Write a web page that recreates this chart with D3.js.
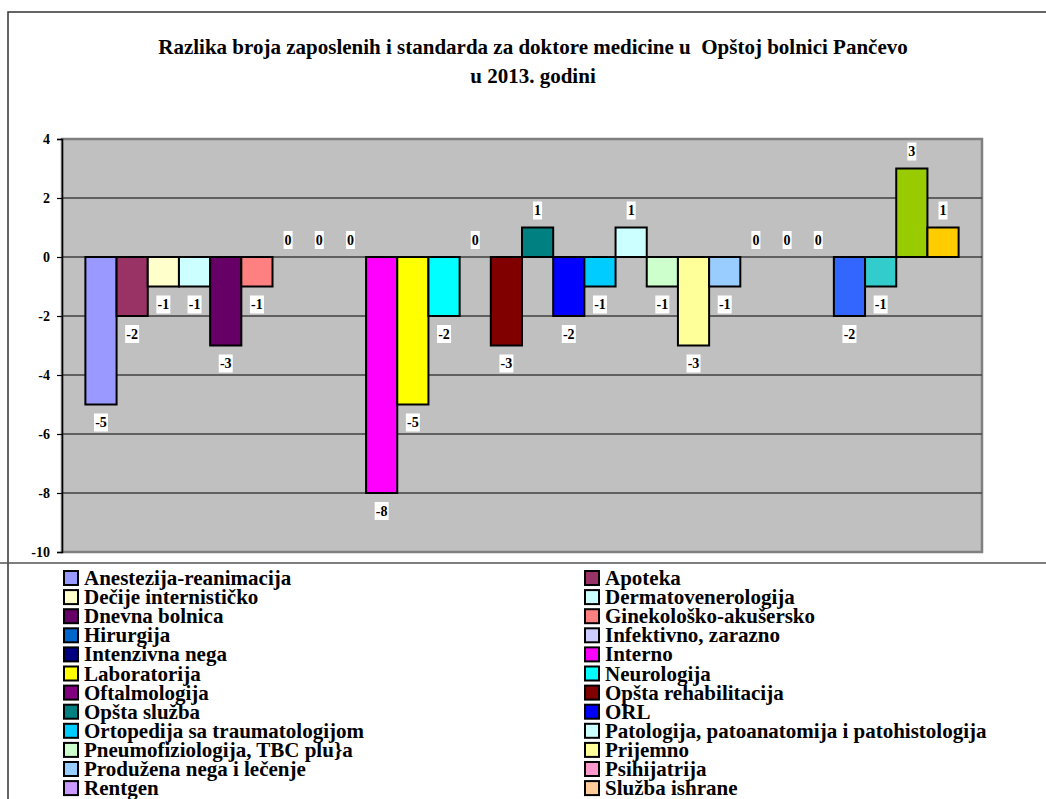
<!DOCTYPE html>
<html>
<head>
<meta charset="utf-8">
<script src="https://cdn.jsdelivr.net/npm/d3@7"></script>
<style>
  body { margin: 0; overflow: hidden; background: #fff; }
  svg text { font-family: "Times New Roman", "Liberation Serif", "DejaVu Serif", serif; font-weight: bold; }
</style>
</head>
<body>
<div id="mychart"></div>
<script>
// chart data
var departments = [
  "Anestezija-reanimacija", "Apoteka", "Dečije internističko", "Dermatovenerologija",
  "Dnevna bolnica", "Ginekološko-akušersko", "Hirurgija", "Infektivno, zarazno",
  "Intenzivna nega", "Interno", "Laboratorija", "Neurologija",
  "Oftalmologija", "Opšta rehabilitacija", "Opšta služba", "ORL",
  "Ortopedija sa traumatologijom", "Patologija, patoanatomija i patohistologija",
  "Pneumofiziologija, TBC plu}a", "Prijemno", "Produžena nega i lečenje", "Psihijatrija",
  "Rentgen", "Služba ishrane", "Transfuziologija", "Urgentni centar",
  "Urologija", "Zajedničke službe"
];
var difference = [
  -5, -2, -1, -1,
  -3, -1, 0, 0,
  0, -8, -5, -2,
  0, -3, 1, -2,
  -1, 1,
  -1, -3, -1, 0,
  0, 0, -2, -1,
  3, 1
];
var colors = [
  "#9999FF", "#993366", "#FFFFCC", "#CCFFFF",
  "#660066", "#FF8080", "#0066CC", "#CCCCFF",
  "#000080", "#FF00FF", "#FFFF00", "#00FFFF",
  "#800080", "#800000", "#008080", "#0000FF",
  "#00CCFF", "#CCFFFF",
  "#CCFFCC", "#FFFF99", "#99CCFF", "#FF99CC",
  "#CC99FF", "#FFCC99", "#3366FF", "#33CCCC",
  "#99CC00", "#FFCC00"
];
var yTicks = [-10, -8, -6, -4, -2, 0, 2, 4];
var title = ["Razlika broja zaposlenih i standarda za doktore medicine u  Opštoj bolnici Pančevo",
             "u 2013. godini"];

var data = departments.map(function(d, i) {
  return { name: d, value: difference[i], color: colors[i] };
});

var W = 1046, H = 799;
var plot = { left: 62, right: 982, top: 139, bottom: 552 };
var serif = "'Times New Roman', 'Liberation Serif', 'DejaVu Serif', serif";
// plain hyphen for negatives, like the original
var fmt = function(d) { return String(d); };

var svg = d3.select("#mychart")
  .append("svg")
    .attr("width", W)
    .attr("height", H)
    .attr("font-family", serif);

// outer frame
svg.append("path")
  .attr("d", "M8," + H + "V12H" + W)
  .attr("fill", "none")
  .attr("stroke", "#333")
  .attr("stroke-width", 1.5);
svg.append("line")
  .attr("x1", 0).attr("x2", W)
  .attr("y1", 563).attr("y2", 563)
  .attr("stroke", "#555")
  .attr("stroke-width", 1.5);

// title
svg.append("text")
  .attr("text-anchor", "middle")
  .attr("font-size", 21)
  .selectAll("tspan")
  .data(title)
  .enter()
  .append("tspan")
    .attr("x", 533)
    .attr("y", function(d, i) { return 54 + i * 29; })
    .style("white-space", "pre")
    .text(function(d) { return d; });

// scales
var x = d3.scaleBand()
  .domain(departments)
  .range([plot.left, plot.right])
  .paddingInner(0)
  .paddingOuter(0.75);

var y = d3.scaleLinear()
  .domain([-10, 4])
  .range([plot.bottom, plot.top]);

// plot area
svg.append("rect")
  .attr("x", plot.left)
  .attr("y", plot.top)
  .attr("width", plot.right - plot.left)
  .attr("height", plot.bottom - plot.top)
  .attr("fill", "#C0C0C0")
  .attr("stroke", "#808080")
  .attr("stroke-width", 2.5);

// gridlines
svg.append("g")
  .selectAll("line")
  .data(yTicks.filter(function(t) { return t > -10 && t < 4; }))
  .enter()
  .append("line")
    .attr("x1", plot.left)
    .attr("x2", plot.right)
    .attr("y1", function(d) { return y(d); })
    .attr("y2", function(d) { return y(d); })
    .attr("stroke", function(d) { return d === 0 ? "#000" : "#404040"; })
    .attr("stroke-width", function(d) { return d === 0 ? 1 : 1.5; });

// y axis
var yAxis = svg.append("g")
  .attr("transform", "translate(" + plot.left + ",0)")
  .call(d3.axisLeft(y).tickValues(yTicks).tickSize(5).tickPadding(7).tickFormat(fmt));
yAxis.attr("font-family", serif);
yAxis.select(".domain").attr("stroke", "#000").attr("stroke-width", 1.5);
yAxis.selectAll(".tick line").attr("stroke", "#000").attr("stroke-width", 1.2);
yAxis.selectAll(".tick text")
  .attr("font-weight", "bold")
  .attr("font-size", 14)
  .attr("fill", "#000");

// bars
svg.append("g")
  .selectAll("rect")
  .data(data.filter(function(d) { return d.value !== 0; }))
  .enter()
  .append("rect")
    .attr("x", function(d) { return x(d.name); })
    .attr("y", function(d) { return y(Math.max(0, d.value)); })
    .attr("width", x.bandwidth())
    .attr("height", function(d) { return Math.abs(y(d.value) - y(0)); })
    .attr("fill", function(d) { return d.color; })
    .attr("stroke", "#000")
    .attr("stroke-width", 2);

// data labels with white boxes
var labels = svg.append("g")
  .selectAll("g")
  .data(data)
  .enter()
  .append("g")
    .attr("transform", function(d) {
      var cy = d.value < 0 ? y(d.value) + 18 : y(d.value) - 17;
      return "translate(" + (x(d.name) + x.bandwidth() / 2) + "," + cy + ")";
    });
labels.append("rect")
  .attr("x", function(d) { return d.value < 0 ? -7 : -4.5; })
  .attr("y", -9)
  .attr("width", function(d) { return d.value < 0 ? 14 : 9; })
  .attr("height", 18)
  .attr("fill", "#fff");
labels.append("text")
  .attr("text-anchor", "middle")
  .attr("dy", "0.35em")
  .attr("font-size", 14)
  .text(function(d) { return fmt(d.value); });

// legend: two columns, filled row by row
var legend = svg.append("g")
  .selectAll("g")
  .data(data)
  .enter()
  .append("g")
    .attr("transform", function(d, i) {
      var col = i % 2, row = Math.floor(i / 2);
      return "translate(" + (col === 0 ? 64 : 585) + "," + (578 + row * 19.1) + ")";
    });
legend.append("rect")
  .attr("x", 0)
  .attr("y", -7)
  .attr("width", 14)
  .attr("height", 14)
  .attr("fill", function(d) { return d.color; })
  .attr("stroke", "#000")
  .attr("stroke-width", 2);
legend.append("text")
  .attr("x", 20)
  .attr("y", 7)
  .attr("font-size", 21)
  .text(function(d) { return d.name; });
</script>
</body>
</html>
